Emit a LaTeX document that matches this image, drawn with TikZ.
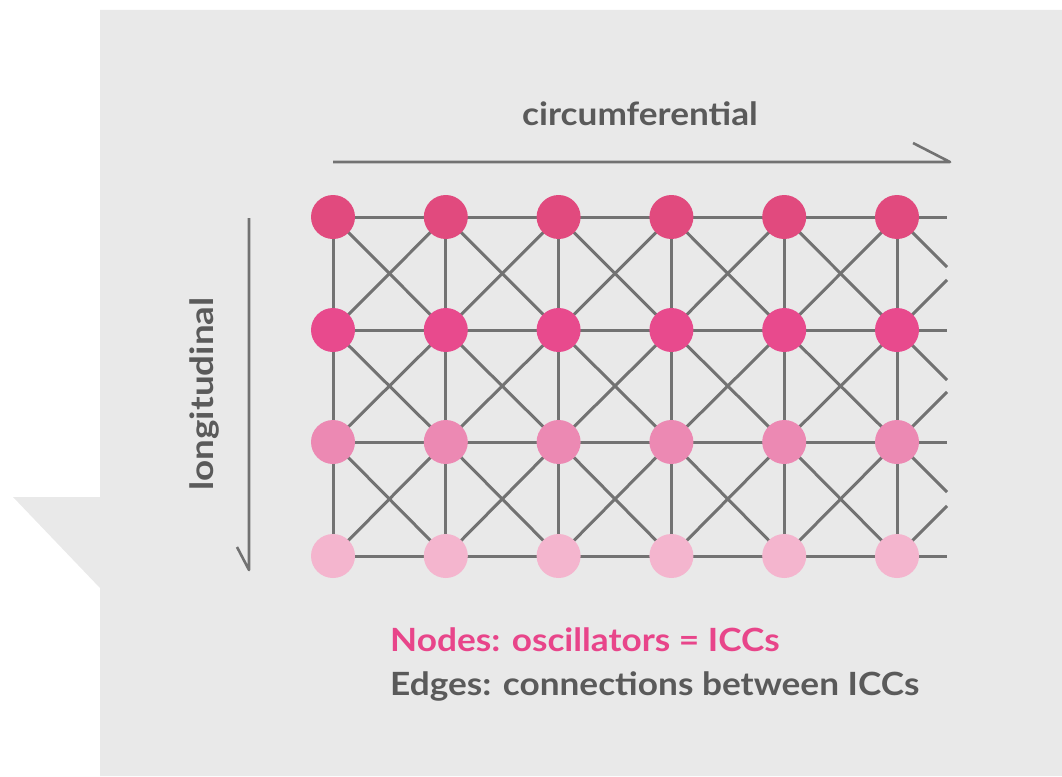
\documentclass[tikz,border=0pt]{standalone}
\usepackage{fontspec}
\setmainfont{Lato}
\usetikzlibrary{calc}
\definecolor{bggrey}{HTML}{E9E9E9}
\definecolor{edgegrey}{HTML}{727272}
\definecolor{textgrey}{HTML}{5A5A5A}
\definecolor{legendpink}{HTML}{E8458A}
\definecolor{rowa}{HTML}{E14A7E}
\definecolor{rowb}{HTML}{E84A8D}
\definecolor{rowc}{HTML}{EC89B3}
\definecolor{rowd}{HTML}{F4B5CE}
\pgfdeclarelayer{bglayer}
\pgfdeclarelayer{edgelayer}
\pgfsetlayers{bglayer,edgelayer,main}
\newcommand{\widetext}[2]{\scalebox{#1}[1]{#2}}
\begin{document}
\begin{tikzpicture}[x=1pt,y=-1pt,
  edgeline/.style={draw=edgegrey,line width=3pt},
  arrowline/.style={draw=edgegrey,line width=2.6pt,line join=round},
  osc/.style={circle,minimum size=44pt,inner sep=0pt,draw=none},
  labeltext/.style={font=\bfseries\fontsize{32}{38}\selectfont,inner sep=0pt}]
\useasboundingbox (0,0) rectangle (1062,776);
\begin{pgfonlayer}{bglayer}
\fill[bggrey] (100,10) -- (1062,10) -- (1062,776) -- (100,776) -- (100,588) -- (13,497) -- (100,497) -- cycle;
\end{pgfonlayer}
% oscillator nodes
\foreach \r/\y/\col in {1/217/rowa,2/330/rowb,3/442/rowc,4/556/rowd}{
  \foreach \c in {1,...,6}{
    \node[osc,fill=\col] (n\r\c) at ({333+(\c-1)*112.8},\y) {};
  }
}
\begin{pgfonlayer}{edgelayer}
% horizontal edges
\foreach \r in {1,...,4}{
  \foreach \c [evaluate=\c as \d using int(\c+1)] in {1,...,5}{
    \draw[edgeline] (n\r\c.center) -- (n\r\d.center);
  }
  \coordinate (h\r) at ($(n\r6)+(50,0)$);
  \draw[edgeline] (n\r6.center) -- (h\r);
}
% vertical and diagonal edges
\foreach \r [evaluate=\r as \s using int(\r+1)] in {1,...,3}{
  \foreach \c in {1,...,6}{
    \draw[edgeline] (n\r\c.center) -- (n\s\c.center);
  }
  \foreach \c [evaluate=\c as \d using int(\c+1)] in {1,...,5}{
    \draw[edgeline] (n\r\c.center) -- (n\s\d.center);
    \draw[edgeline] (n\s\c.center) -- (n\r\d.center);
  }
  \coordinate (dd\r) at ($(n\r6)+(50,50)$);
  \coordinate (du\r) at ($(n\s6)+(50,-50)$);
  \draw[edgeline] (n\r6.center) -- (dd\r);
  \draw[edgeline] (n\s6.center) -- (du\r);
}
\end{pgfonlayer}
% direction arrows
\coordinate (ca) at (333,162);
\coordinate (cb) at (950,162);
\coordinate (cc) at (913,143);
\draw[arrowline] (ca) -- (cb) -- (cc);
\coordinate (la) at (249,218);
\coordinate (lb) at (249,570);
\coordinate (lc) at (237,547);
\draw[arrowline] (la) -- (lb) -- (lc);
% labels
\node[labeltext,text=textgrey,anchor=base] (circ) at (640,125) {\widetext{1.10}{circumferential}};
\node[labeltext,text=textgrey,anchor=base,rotate=90] (longi) at (213,394) {\widetext{1.15}{longitudinal}};
\node[labeltext,text=legendpink,anchor=base west] (leg1) at (390,651) {\widetext{1.10}{Nodes: oscillators = ICCs}};
\node[labeltext,text=textgrey,anchor=base west] (leg2) at (390,695) {\widetext{1.10}{Edges: connections between ICCs}};
\end{tikzpicture}
\end{document}
